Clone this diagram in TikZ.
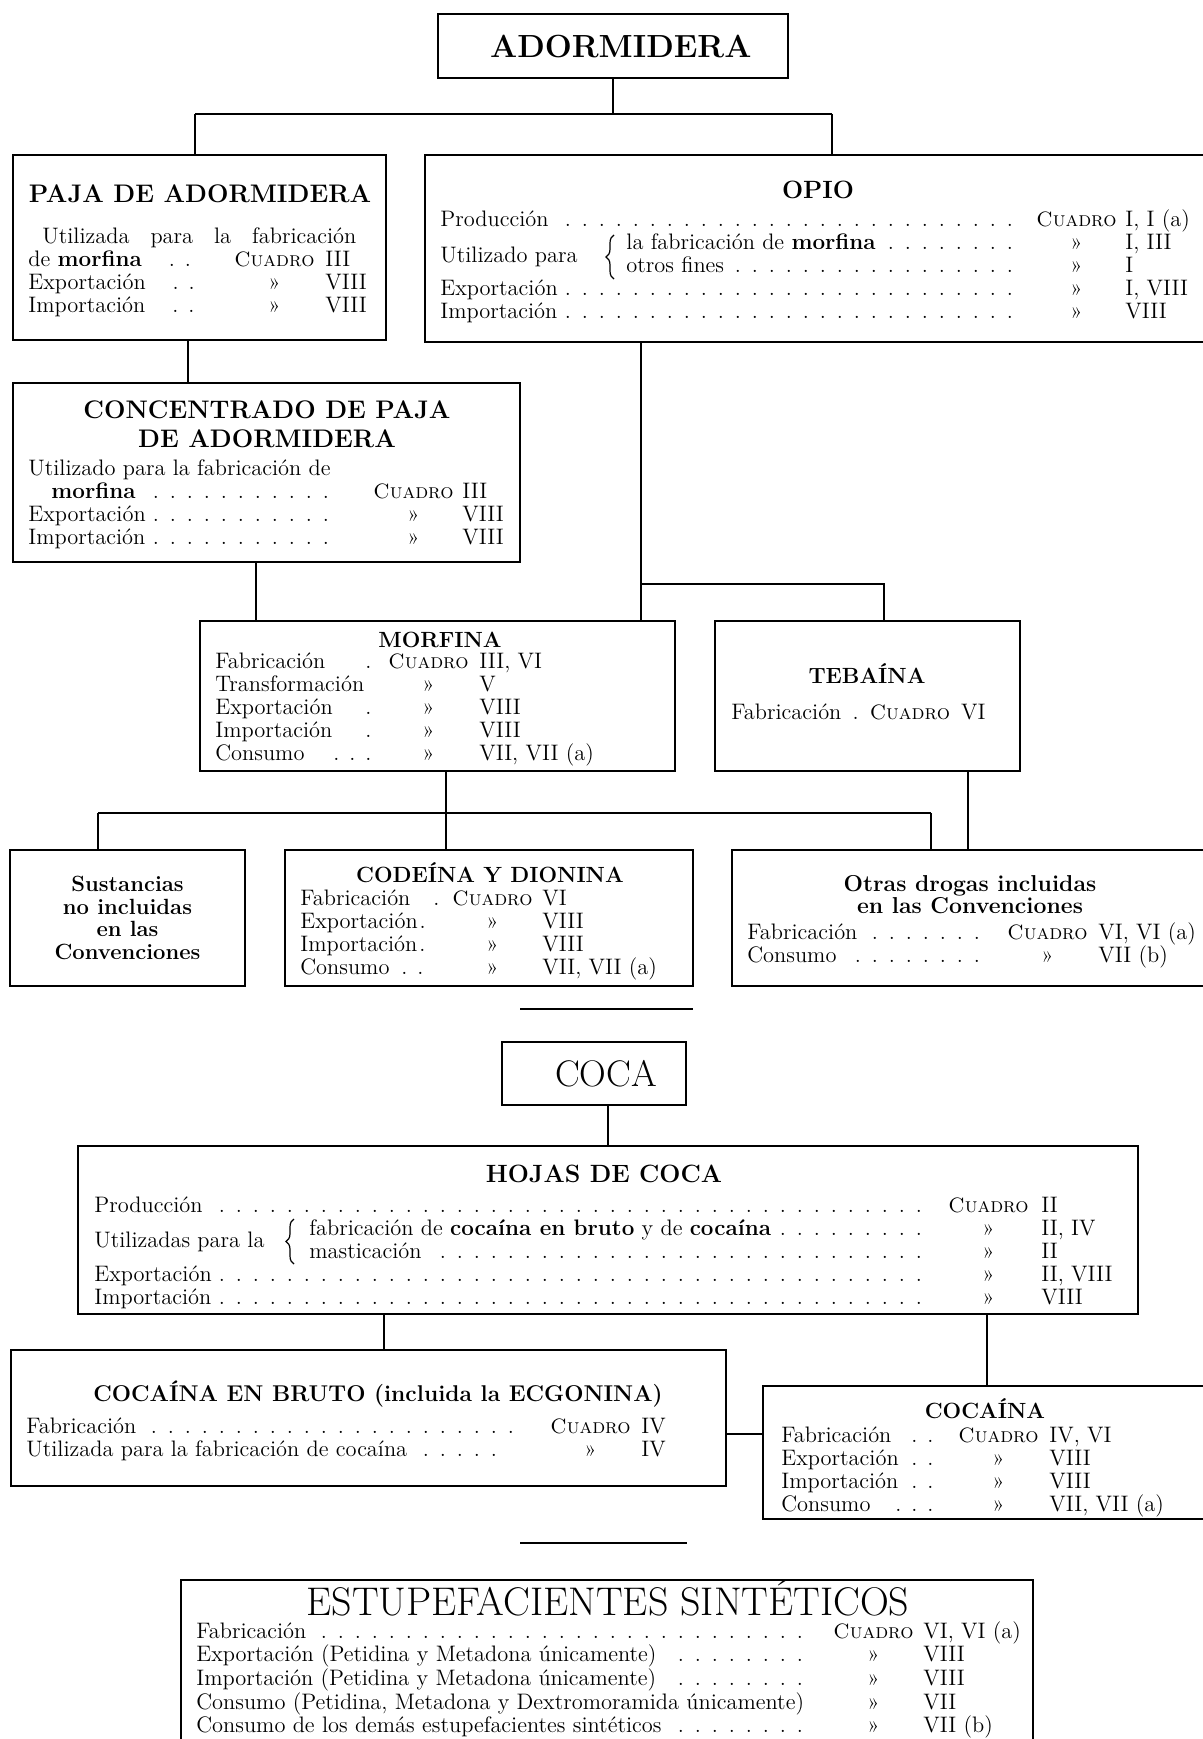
\documentclass[tikz,border=0pt]{standalone}
\usepackage{fontspec}
\usepackage{tikz}
\usetikzlibrary{decorations.pathreplacing}

\newlength\colA
\newlength\colB
\newcommand\dotlead[1][13pt]{\leaders\hbox to 8.5pt{\hss.\hss}\hfill\hspace*{#1}}
\newcommand\onedot{\hbox to 8pt{\hss.\hss}}
\newcommand\cuadro{{\fontsize{10.4}{11.5}\selectfont\textsc{Cuadro}}}
\newcommand\dto{\setbox0\hbox{\cuadro}\hbox to\wd0{\hss»\hss}}
\newcommand\rowd[3]{\hbox to\colA{#1\hfil}&\hbox to\colB{#2\hfil}&#3\\}
\newcommand\bracelbl[2]{\hbox to #1{\raisebox{-6.25pt}[0pt][0pt]{#2}\hfil}}

\begin{document}
\begin{tikzpicture}[x=0.5pt,y=-0.5pt,
    box/.style={draw,line width=1.1pt,inner sep=0pt},
    link/.style={line width=1pt},
    curly/.style={decorate,decoration={brace,amplitude=4pt},line width=0.6pt},
    txt/.style={inner sep=0pt,anchor=base west},
    ttl/.style={inner sep=0pt,anchor=base,font=\bfseries\fontsize{11}{13}\selectfont},
    font=\fontsize{11.2}{11.5}\selectfont]
    \useasboundingbox (0,0) rectangle (1203,1739);

    \node[box,minimum width=175pt,minimum height=32pt,font=\bfseries\fontsize{16}{19}\selectfont] (adorm) at (613,46) {\hspace*{7.8pt}ADORMIDERA};
    \node[box,minimum width=186.5pt,minimum height=92.5pt] (paja) at (199.5,247.5) {};
    \node[box,minimum width=392.5pt,minimum height=93.5pt] (opio) at (817.5,248.5) {};
    \node[box,minimum width=253.5pt,minimum height=89.5pt] (conc) at (266.5,472.5) {};
    \node[box,minimum width=237.5pt,minimum height=75pt] (morf) at (437.5,696) {};
    \node[box,minimum width=152.5pt,minimum height=75pt] (teb) at (867.5,696) {};
    \node[box,minimum width=117.5pt,minimum height=68pt,align=center,font=\bfseries\fontsize{11}{11.3}\selectfont] (sust) at (127.5,918) {Sustancias\\no incluidas\\en las\\Convenciones};
    \node[box,minimum width=204pt,minimum height=68pt] (code) at (489,918) {};
    \node[box,minimum width=239pt,minimum height=68pt] (otras) at (971,918) {};
    \node[box,minimum width=92pt,minimum height=31.5pt,font=\fontsize{18.5}{22}\selectfont] (coca) at (594,1073.5) {\hspace*{12pt}COCA};
    \node[box,minimum width=530pt,minimum height=84pt] (hojas) at (608,1230) {};
    \node[box,minimum width=357.5pt,minimum height=68pt] (bruto) at (368.5,1418) {};
    \node[box,minimum width=223.5pt,minimum height=66.5pt] (cocaina) at (986.5,1452.5) {};
    \node[box,minimum width=426pt,minimum height=95pt] (estup) at (607,1675) {};

    \node[ttl,font=\bfseries\fontsize{12.7}{14.5}\selectfont] (paja-t) at (200,203) {PAJA DE ADORMIDERA};
    \node[ttl,font=\bfseries\fontsize{12.5}{14.5}\selectfont] (opio-t) at (818,199) {OPIO};
    \node[ttl,anchor=center,align=center,font=\bfseries\fontsize{12.7}{14.5}\selectfont] (conc-t) at (267,424) {CONCENTRADO DE PAJA\\DE ADORMIDERA};
    \node[ttl] (morf-t) at (440,647) {MORFINA};
    \node[ttl] (teb-t) at (867,683) {TEBAÍNA};
    \node[ttl] (code-t) at (490,882) {CODEÍNA Y DIONINA};
    \node[ttl,anchor=center,align=center,font=\bfseries\fontsize{11.5}{11}\selectfont] (otras-t) at (970,895) {Otras drogas incluidas\\en las Convenciones};
    \node[ttl,font=\bfseries\fontsize{12.5}{15}\selectfont] (hojas-t) at (604,1182) {HOJAS DE COCA};
    \node[ttl,font=\bfseries\fontsize{11.4}{13}\selectfont] (bruto-t) at (378,1401) {COCAÍNA EN BRUTO (incluida la ECGONINA)};
    \node[ttl] (cocaina-t) at (985,1418) {COCAÍNA};
    \node[ttl,font=\fontsize{20}{23}\selectfont] (estup-t) at (608,1615) {ESTUPEFACIENTES SINTÉTICOS};

    \node[txt] (paja-r) at (28,243) {\setlength\colA{103pt}\setlength\colB{45.5pt}%
        \begin{tabular}[t]{@{}l@{}l@{}l@{}}
        \multicolumn{3}{@{}l@{}}{\hspace*{7pt}\hbox to 157pt{Utilizada\hfill para\hfill la\hfill fabricación}}\\
        \rowd{de \textbf{morfina}\hspace{11pt}\onedot\onedot}{\cuadro}{III}
        \rowd{Exportación\hspace{11pt}\onedot\onedot}{\dto}{VIII}
        \rowd{Importación\hspace{11pt}\onedot\onedot}{\dto}{VIII}
        \end{tabular}};
    \node[txt] (opio-r) at (440,227) {\setlength\colA{298pt}\setlength\colB{44.5pt}%
        \begin{tabular}[t]{@{}l@{}l@{}l@{}}
        \rowd{Producción\dotlead[4pt]}{\cuadro}{I, I (a)}
        \rowd{\bracelbl{93pt}{Utilizado para}la fabricación de \textbf{morfina}\dotlead[4pt]}{\dto}{I, III}
        \rowd{\hspace*{93pt}otros fines\dotlead[4pt]}{\dto}{I}
        \rowd{Exportación\dotlead[4pt]}{\dto}{I, VIII}
        \rowd{Importación\dotlead[4pt]}{\dto}{VIII}
        \end{tabular}};
    \node[txt] (conc-r) at (28,475) {\setlength\colA{172.5pt}\setlength\colB{44.5pt}%
        \begin{tabular}[t]{@{}l@{}l@{}l@{}}
        \multicolumn{3}{@{}l@{}}{Utilizado para la fabricación de}\\
        \rowd{\hspace*{11.5pt}\textbf{morfina}\dotlead[15pt]}{\cuadro}{III}
        \rowd{Exportación\dotlead[15pt]}{\dto}{VIII}
        \rowd{Importación\dotlead[15pt]}{\dto}{VIII}
        \end{tabular}};
    \node[txt] (morf-r) at (215,668) {\setlength\colA{86.5pt}\setlength\colB{45.5pt}%
        \begin{tabular}[t]{@{}l@{}l@{}l@{}}
        \rowd{Fabricación\hfill\onedot\hspace*{6pt}}{\cuadro}{III, VI}
        \rowd{Transformación}{\dto}{V}
        \rowd{Exportación\hfill\onedot\hspace*{6pt}}{\dto}{VIII}
        \rowd{Importación\hfill\onedot\hspace*{6pt}}{\dto}{VIII}
        \rowd{Consumo\hfill\onedot\onedot\onedot\hspace*{6pt}}{\dto}{VII, VII (a)}
        \end{tabular}};
    \node[txt] (teb-r) at (731,719) {Fabricación\enspace.\enspace\cuadro\enspace VI};
    \node[txt] (code-r) at (300,905) {\setlength\colA{76pt}\setlength\colB{45pt}%
        \begin{tabular}[t]{@{}l@{}l@{}l@{}}
        \rowd{Fabricación\hfill\onedot\hspace*{4pt}}{\cuadro}{VI}
        \rowd{Exportación\hspace{1pt}.}{\dto}{VIII}
        \rowd{Importación\hspace{1pt}.}{\dto}{VIII}
        \rowd{Consumo\hfill\onedot\onedot\hspace*{12pt}}{\dto}{VII, VII (a)}
        \end{tabular}};
    \node[txt] (otras-r) at (747,939) {\setlength\colA{130pt}\setlength\colB{45.5pt}%
        \begin{tabular}[t]{@{}l@{}l@{}l@{}}
        \rowd{Fabricación\dotlead[8pt]}{\cuadro}{VI, VI (a)}
        \rowd{Consumo\dotlead[8pt]}{\dto}{VII (b)}
        \end{tabular}};
    \node[txt] (hojas-r) at (94,1212) {\setlength\colA{427pt}\setlength\colB{46.5pt}%
        \begin{tabular}[t]{@{}l@{}l@{}l@{}}
        \rowd{Producción\dotlead[10pt]}{\cuadro}{II}
        \rowd{\bracelbl{107.5pt}{Utilizadas para la}fabricación de \textbf{cocaína en bruto} y de \textbf{cocaína}\dotlead[10pt]}{\dto}{II, IV}
        \rowd{\hspace*{107.5pt}masticación\dotlead[10pt]}{\dto}{II}
        \rowd{Exportación\dotlead[10pt]}{\dto}{II, VIII}
        \rowd{Importación\dotlead[10pt]}{\dto}{VIII}
        \end{tabular}};
    \node[txt] (bruto-r) at (26,1433) {\setlength\colA{262pt}\setlength\colB{45.5pt}%
        \begin{tabular}[t]{@{}l@{}l@{}l@{}}
        \rowd{Fabricación\dotlead[12pt]}{\cuadro}{IV}
        \rowd{Utilizada para la fabricación de cocaína\dotlead[20pt]}{\dto}{IV}
        \end{tabular}};
    \node[txt] (cocaina-r) at (781,1442) {\setlength\colA{88.5pt}\setlength\colB{45.5pt}%
        \begin{tabular}[t]{@{}l@{}l@{}l@{}}
        \rowd{Fabricación\hfill\onedot\onedot\hspace*{10pt}}{\cuadro}{IV, VI}
        \rowd{Exportación\hfill\onedot\onedot\hspace*{10pt}}{\dto}{VIII}
        \rowd{Importación\hfill\onedot\onedot\hspace*{10pt}}{\dto}{VIII}
        \rowd{Consumo\hfill\onedot\onedot\onedot\hspace*{10pt}}{\dto}{VII, VII (a)}
        \end{tabular}};
    \node[txt] (estup-r) at (196,1638) {\setlength\colA{318.5pt}\setlength\colB{45pt}%
        \begin{tabular}[t]{@{}l@{}l@{}l@{}}
        \rowd{Fabricación\dotlead[8pt]}{\cuadro}{VI, VI (a)}
        \rowd{Exportación (Petidina y Metadona únicamente)\dotlead[8pt]}{\dto}{VIII}
        \rowd{Importación (Petidina y Metadona únicamente)\dotlead[8pt]}{\dto}{VIII}
        \rowd{Consumo (Petidina, Metadona y Dextromoramida únicamente)}{\dto}{VII}
        \rowd{Consumo de los demás estupefacientes sintéticos\dotlead[8pt]}{\dto}{VII (b)}
        \end{tabular}};

    \draw[curly] (614,279) -- (614,235);
    \draw[curly] (294,1264) -- (294,1219);

    \coordinate (j1) at (195,114);
    \coordinate (j2) at (832,114);
    \coordinate (j3) at (641,584);
    \coordinate (j4) at (884,584);
    \coordinate (j5) at (98,813);
    \coordinate (j6) at (931,813);
    \draw[link] (adorm) -- (adorm |- j1);
    \draw[link] (j1) -- (j2);
    \draw[link] (j1) -- (j1 |- paja.north);
    \draw[link] (j2) -- (j2 |- opio.north);
    \draw[link] ([xshift=-6pt]paja.south) -- ([xshift=-6pt]paja.south |- conc.north);
    \draw[link] (opio.south -| j3) -- (morf.north -| j3);
    \draw[link] (j3) -- (j4) -- (j4 |- teb.north);
    \draw[link] ([xshift=-5.5pt]conc.south) -- ([xshift=-5.5pt]conc.south |- morf.north);
    \draw[link] (j5) -- (j6);
    \draw[link] ([xshift=4pt]morf.south) -- ([xshift=4pt]morf.south |- code.north);
    \draw[link] (j5) -- (j5 |- sust.north);
    \draw[link] (j6) -- (j6 |- otras.north);
    \draw[link] ([xshift=50pt]teb.south) -- ([xshift=50pt]teb.south |- otras.north);
    \draw[link] (hojas.north |- coca.south) -- (hojas.north);
    \draw[link] ([xshift=-112pt]hojas.south) -- ([xshift=-112pt]hojas.south |- bruto.north);
    \draw[link] (cocaina.north |- hojas.south) -- (cocaina.north);
    \draw[link] ([yshift=-8pt]bruto.east) -- ([yshift=-8pt]bruto.east -| cocaina.west);

    \draw[link] (520,1009) -- (693,1009);
    \draw[link] (520,1543) -- (687,1543);
\end{tikzpicture}
\end{document}
